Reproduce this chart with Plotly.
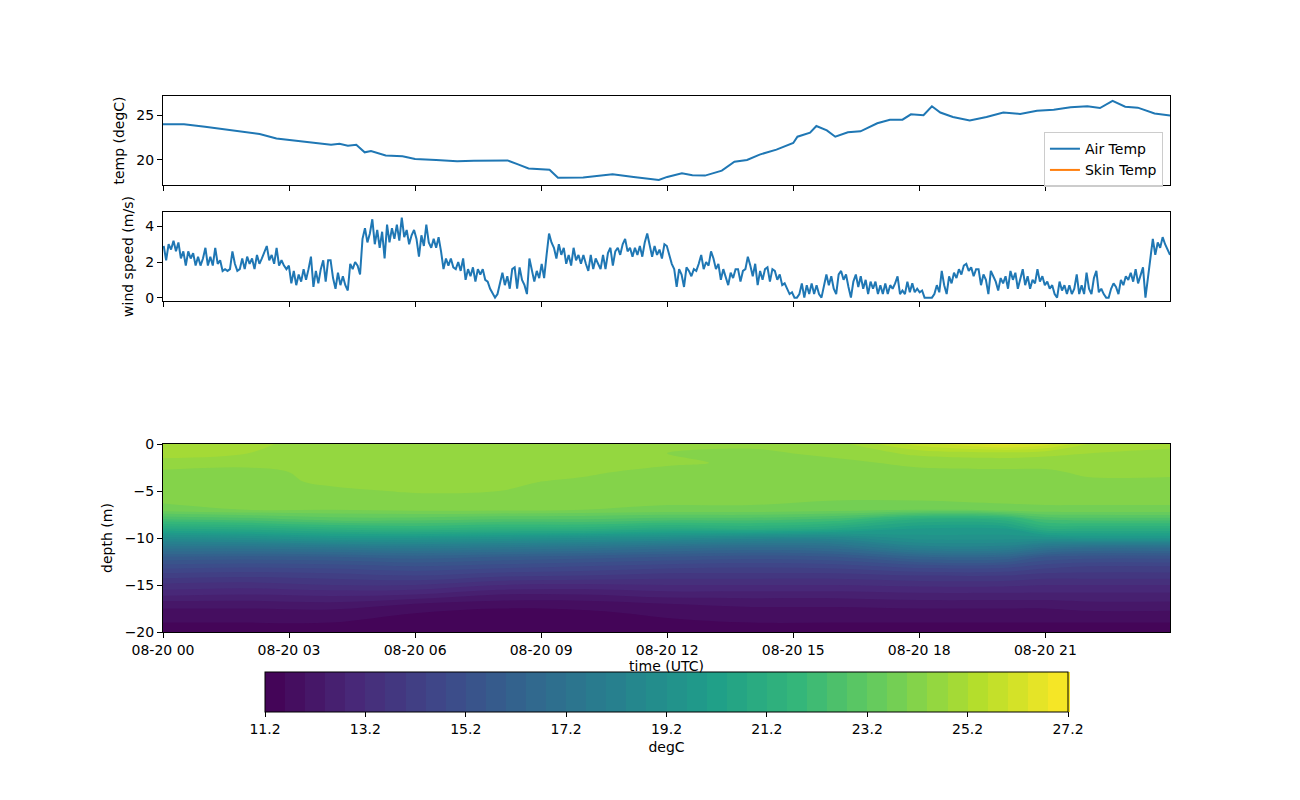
import pandas as pd
import plotly.graph_objects as go
from plotly.subplots import make_subplots

DAY = pd.Timestamp('2023-08-20 00:00')
END = pd.Timestamp('2023-08-20 23:58')

# air temperature (hours since 00 UTC, degC)
air_hours = [0, 0.5, 1.0, 1.5, 1.9, 2.3, 2.7, 3.2, 3.6, 4.0, 4.2, 4.4, 4.6, 4.8, 4.95,
             5.3, 5.7, 6.0, 6.5, 7.0, 7.4, 7.8, 8.2, 8.45, 8.7, 9.2, 9.4, 10.0, 10.5, 10.7,
             11.2, 11.8, 12.0, 12.35, 12.6, 12.9, 13.3, 13.6, 13.9, 14.2, 14.6, 15.0, 15.1,
             15.4, 15.55, 15.8, 16.0, 16.3, 16.6, 17.0, 17.3, 17.6, 17.8, 18.1, 18.3, 18.5,
             18.8, 19.2, 19.6, 20.0, 20.4, 20.8, 21.2, 21.6, 22.0, 22.3, 22.6, 22.9, 23.2,
             23.6, 23.98]
air_temp = [24.0, 24.0, 23.7, 23.4, 23.1, 22.9, 22.4, 22.15, 21.9, 21.7, 21.8, 21.6, 21.7, 20.85, 21.0,
            20.5, 20.4, 20.1, 20.0, 19.85, 19.9, 19.95, 19.95, 19.5, 19.05, 18.9, 18.0, 18.05, 18.35, 18.4,
            18.1, 17.75, 18.1, 18.5, 18.3, 18.25, 18.8, 19.8, 20.0, 20.6, 21.15, 21.9, 22.6,
            23.05, 23.8, 23.3, 22.6, 23.1, 23.2, 24.1, 24.5, 24.5, 25.1, 25.0, 26.0, 25.3,
            24.8, 24.4, 24.8, 25.3, 25.15, 25.5, 25.6, 25.9, 26.0, 25.8, 26.6, 25.95, 25.85,
            25.2, 24.95]
skin_temp = [None]

# wind speed (m/s), evenly spaced through the day
wind_speed = [
    2.9, 2.1, 3.0, 2.7, 3.2, 2.6, 3.1, 2.2, 2.6, 1.8, 2.6, 2.2, 2.5, 1.8, 2.3, 1.8, 2.2, 2.8, 1.8, 2.3,
    1.8, 2.8, 1.9, 2.1, 1.5, 1.6, 1.5, 1.6, 2.6, 1.9, 1.5, 1.6, 2.2, 1.6, 2.3, 1.9, 2.2, 1.6, 2.4, 1.9,
    2.2, 2.5, 2.9, 2.1, 2.4, 1.9, 2.8, 1.8, 2.1, 1.8, 1.6, 1.8, 0.8, 1.5, 0.7, 1.3, 0.9, 1.6, 1.0, 1.6,
    2.3, 0.6, 1.5, 0.8, 1.6, 2.1, 0.9, 2.1, 2.1, 1.1, 0.5, 1.4, 0.7, 1.2, 0.7, 0.4, 1.9, 1.6, 2.0, 1.8,
    1.3, 3.3, 3.9, 3.1, 3.6, 4.4, 3.0, 3.8, 2.8, 3.7, 2.2, 4.1, 3.1, 3.9, 3.3, 4.1, 3.2, 4.5, 3.4, 3.8,
    3.0,
    3.5, 3.8, 3.3, 2.3, 3.5, 2.9, 4.1, 3.1, 2.8, 3.3, 2.8, 3.4, 2.6, 1.6, 2.2, 1.8, 2.2, 1.7, 1.6, 2.0,
    1.5, 2.2, 1.0, 1.6, 1.2, 1.7, 0.9, 1.6, 1.3, 1.6, 1.0, 0.9, 0.5, 0.2, 0.0, 0.2, 0.8, 1.4, 0.7, 1.2,
    0.5, 1.6, 1.7, 0.5, 1.7, 1.0, 0.7, 0.2, 2.2, 1.6, 0.9, 1.5, 1.1, 1.9, 1.1, 2.4, 3.6, 3.1, 2.8, 2.2,
    3.0, 2.4, 2.8, 1.9, 2.4, 1.8, 2.8, 2.1, 2.4, 1.9, 2.4, 1.9, 1.5, 2.4, 1.6, 2.2, 1.9, 1.6, 2.4, 1.6,
    2.5, 2.8, 1.8, 2.6, 2.8, 2.4, 3.0, 3.3, 2.6, 2.8, 2.3, 2.8, 2.4, 2.9, 2.3, 3.1, 3.6, 3.0, 2.3, 2.9,
    2.4, 2.7, 2.2, 3.0,
    2.9, 2.4, 1.9, 1.6, 0.6, 1.6, 1.3, 0.6, 1.7, 1.5, 1.2, 1.6, 1.5, 1.9, 2.4, 1.6, 2.0, 1.8, 2.6, 2.2,
    1.6, 1.9, 1.0, 1.6, 1.2, 0.7, 1.4, 1.1, 1.6, 1.6, 0.9, 1.5, 1.6, 2.3, 1.8, 1.2, 1.9, 0.7, 1.5, 1.0,
    1.6, 1.7, 0.9, 1.6, 1.5, 1.0, 1.3, 0.7, 0.8, 0.5, 0.2, 0.3, 0.0, 0.0, 0.2, 0.8, 0.0, 0.7, 0.2, 0.8,
    0.2, 0.7, 0.2, 0.0, 0.7, 1.3, 0.7, 1.2, 0.5, 0.2, 1.3, 1.5, 1.0, 1.3, 0.6, 0.0, 0.9, 1.3, 0.6, 1.2,
    0.5, 1.0, 0.2, 0.9, 0.5, 0.9, 0.2, 0.7, 0.2, 0.8, 0.2, 0.7, 0.5, 0.8, 1.2, 0.2, 0.4, 0.2, 0.9, 0.3,
    0.8, 0.3,
    0.5, 0.3, 0.4, 0.0, 0.0, 0.0, 0.0, 0.2, 0.7, 0.3, 1.5, 0.7, 0.2, 1.2, 0.8, 1.4, 1.1, 1.6, 1.3, 1.8,
    1.9, 1.5, 1.7, 1.2, 1.6, 1.6, 0.7, 1.3, 1.0, 0.2, 1.5, 1.2, 0.9, 0.4, 1.1, 0.8, 1.2, 0.5, 1.5, 1.0,
    1.4, 0.5, 1.1, 1.6, 0.7, 1.2, 0.5, 1.0, 0.8, 1.6, 0.9, 1.2, 0.7, 0.9, 0.5, 0.7, 0.2, 0.0, 0.9, 0.4,
    0.7, 0.2, 0.7, 0.2, 0.5, 1.3, 0.2, 0.7, 0.2, 1.4, 0.5, 0.2, 1.1, 1.5, 0.3, 0.5, 0.2, 0.0, 0.0, 0.5,
    0.8, 0.6, 0.2, 1.0, 0.7, 1.2, 1.0, 1.4, 0.9, 1.6, 0.8, 1.3, 1.7, 0.0, 1.1, 2.5, 3.3, 2.4, 3.1, 2.8,
    3.4, 3.0, 2.7, 2.4,
]

# water temperature section: rows are depths, columns are grid hours
grid_hours = [0, 2, 4, 6, 8, 10, 12, 14, 16, 18, 20, 21, 22, 24]
depths = [0, -1, -2, -3, -4, -5, -6, -7, -8, -9, -10, -11, -12, -13, -14, -15, -16, -17, -18, -19, -20]
water_temp = [
    [25.0, 24.9, 24.6, 24.6, 24.6, 24.6, 24.5, 24.5, 24.6, 25.8, 26.6, 26.2, 25.2, 24.9],
    [24.9, 24.8, 24.6, 24.6, 24.6, 24.6, 24.4, 24.3, 24.5, 24.9, 25.0, 24.9, 24.8, 24.7],
    [24.7, 24.5, 24.6, 24.6, 24.6, 24.6, 24.5, 24.3, 24.3, 24.5, 24.6, 24.6, 24.6, 24.6],
    [24.3, 24.3, 24.5, 24.6, 24.6, 24.5, 24.2, 24.2, 24.2, 24.3, 24.3, 24.3, 24.5, 24.5],
    [24.2, 24.2, 24.5, 24.5, 24.5, 24.3, 24.2, 24.2, 24.2, 24.2, 24.2, 24.2, 24.3, 24.3],
    [24.2, 24.2, 24.3, 24.45, 24.4, 24.2, 24.2, 24.1, 24.1, 24.1, 24.1, 24.2, 24.2, 24.2],
    [24.1, 24.1, 24.2, 24.2, 24.2, 24.1, 24.1, 24.1, 24.0, 24.0, 24.1, 24.1, 24.1, 24.1],
    [23.8, 24.0, 24.0, 24.1, 24.1, 24.0, 23.9, 23.9, 23.8, 23.6, 23.8, 23.9, 23.9, 23.9],
    [22.4, 22.6, 23.0, 23.0, 22.8, 22.8, 22.6, 22.6, 22.3, 21.2, 21.4, 22.5, 22.6, 22.6],
    [20.8, 21.0, 21.4, 21.6, 21.4, 21.4, 21.0, 21.2, 20.8, 20.0, 20.0, 21.2, 21.2, 21.2],
    [19.0, 19.2, 19.6, 19.6, 19.4, 19.2, 19.0, 18.6, 18.6, 19.4, 19.4, 19.4, 19.6, 19.6],
    [17.4, 17.4, 17.6, 17.8, 17.6, 17.4, 17.0, 16.8, 17.0, 18.2, 18.2, 17.4, 17.0, 17.0],
    [16.0, 15.9, 16.0, 16.2, 16.0, 15.8, 15.6, 15.4, 15.6, 16.4, 16.4, 15.6, 15.4, 15.4],
    [15.0, 14.9, 15.0, 15.2, 15.0, 14.8, 14.6, 14.5, 14.6, 15.0, 15.0, 14.6, 14.4, 14.4],
    [14.2, 14.1, 14.2, 14.4, 14.1, 14.0, 13.8, 13.8, 13.8, 14.0, 14.0, 13.8, 13.8, 13.8],
    [13.5, 13.4, 13.6, 13.6, 13.2, 13.1, 13.2, 13.2, 13.2, 13.3, 13.3, 13.2, 13.2, 13.2],
    [12.9, 12.8, 12.9, 12.8, 12.4, 12.4, 12.6, 12.6, 12.6, 12.7, 12.7, 12.7, 12.7, 12.7],
    [12.2, 12.2, 12.3, 12.0, 11.8, 11.8, 12.0, 12.1, 12.1, 12.2, 12.2, 12.2, 12.3, 12.3],
    [11.8, 11.8, 11.8, 11.6, 11.4, 11.5, 11.7, 11.8, 11.8, 11.8, 11.8, 11.8, 11.9, 11.9],
    [11.6, 11.6, 11.6, 11.3, 11.3, 11.3, 11.5, 11.6, 11.6, 11.6, 11.6, 11.6, 11.6, 11.6],
    [11.4, 11.4, 11.4, 11.25, 11.25, 11.25, 11.3, 11.4, 11.3, 11.3, 11.3, 11.3, 11.4, 11.4],
]

cbar_ticks = [11.2, 13.2, 15.2, 17.2, 19.2, 21.2, 23.2, 25.2, 27.2]
time_ticks = ['2023-08-20 00:00', '2023-08-20 03:00', '2023-08-20 06:00', '2023-08-20 09:00',
              '2023-08-20 12:00', '2023-08-20 15:00', '2023-08-20 18:00', '2023-08-20 21:00']

BLUE = '#1f77b4'
ORANGE = '#ff7f0e'
FONT = 'DejaVu Sans'


def to_times(hours):
    return DAY + pd.to_timedelta(hours, unit='h')


air_times = to_times(air_hours)
wind_times = pd.date_range(DAY + pd.Timedelta(minutes=1), END, periods=len(wind_speed))
grid_times = to_times(grid_hours)

fig = make_subplots(rows=3, cols=1, shared_xaxes=True)

fig.add_trace(go.Scatter(x=air_times, y=air_temp, mode='lines', name='Air Temp',
                         line=dict(color=BLUE, width=2)), row=1, col=1)
fig.add_trace(go.Scatter(x=[DAY], y=skin_temp, mode='lines', name='Skin Temp',
                         line=dict(color=ORANGE, width=2)), row=1, col=1)
fig.add_trace(go.Scatter(x=wind_times, y=wind_speed, mode='lines', showlegend=False,
                         line=dict(color=BLUE, width=2)), row=2, col=1)
fig.add_trace(go.Contour(
    x=grid_times, y=depths, z=water_temp, colorscale='Viridis',
    zmin=11.2, zmax=27.2, zauto=False, showlegend=False,
    contours=dict(start=11.2, end=27.2, size=0.4, coloring='fill', showlines=False),
    line=dict(width=0),
    colorbar=dict(orientation='h', x=0.5, xanchor='center', y=-0.0746, yanchor='top',
                  len=0.797, lenmode='fraction', thickness=40, thicknessmode='pixels',
                  xpad=0, ypad=0, outlinewidth=1, outlinecolor='black',
                  tickvals=cbar_ticks, ticktext=[f'{v:.1f}' for v in cbar_ticks],
                  ticks='outside', ticklen=5, tickcolor='black',
                  tickfont=dict(family=FONT, size=14, color='black'),
                  title=dict(text='degC', side='bottom', font=dict(family=FONT, size=14, color='black'))),
), row=3, col=1)

axis_style = dict(showline=True, mirror=True, linecolor='black', linewidth=1, ticks='outside',
                  ticklen=5, tickcolor='black', showgrid=False, zeroline=False,
                  tickfont=dict(family=FONT, size=14, color='black'))

fig.update_xaxes(**axis_style, range=[DAY, END], tickvals=time_ticks, tickformat='%m-%d %H')
fig.update_xaxes(title=dict(text='time (UTC)', standoff=2, font=dict(family=FONT, size=14)), row=3, col=1)
fig.update_yaxes(**axis_style)
fig.update_yaxes(range=[17.2, 27.15], tickvals=[20, 25], domain=[0.834, 1.0],
                 title=dict(text='temp (degC)', standoff=8, font=dict(family=FONT, size=14)), row=1, col=1)
fig.update_yaxes(range=[-0.19, 4.81], tickvals=[0, 2, 4], domain=[0.6175, 0.7836],
                 title=dict(text='wind speed (m/s)', standoff=8, font=dict(family=FONT, size=14)), row=2, col=1)
fig.update_yaxes(range=[-20, 0], dtick=5, domain=[0, 0.3507],
                 title=dict(text='depth (m)', standoff=8, font=dict(family=FONT, size=14)), row=3, col=1)

# the page body adds an 8 px offset, so the figure is drawn slightly smaller
fig.update_layout(
    width=1284, height=784,
    margin=dict(l=155, r=122, t=88, b=160),
    paper_bgcolor='white', plot_bgcolor='white',
    font=dict(family=FONT, size=14, color='black'),
    legend=dict(x=0.993, xanchor='right', y=0.83, yanchor='bottom',
                bordercolor='#cccccc', borderwidth=1, bgcolor='rgba(255,255,255,0.8)',
                font=dict(family=FONT, size=14, color='black')),
)

fig.write_html('out.html')
